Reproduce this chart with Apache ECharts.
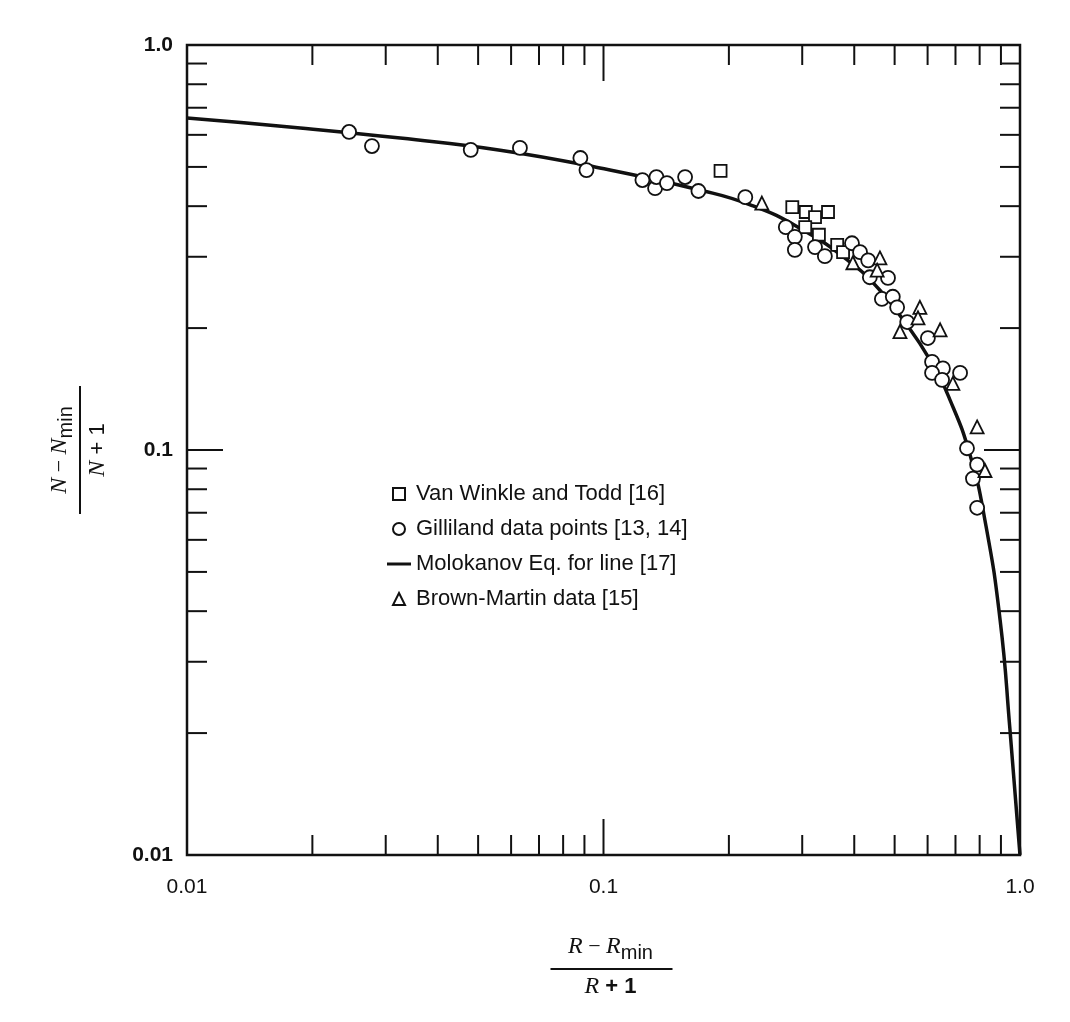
<!DOCTYPE html>
<html><head><meta charset="utf-8">
<script src="https://cdn.jsdelivr.net/npm/echarts@6/dist/echarts.min.js"></script>
<style>html,body{margin:0;padding:0;background:#fff}#c{width:1070px;height:1022px}</style>
</head><body><div id="c"></div>
<script>
const molokanov = [[0.01,0.66],[0.0187,0.624],[0.0325,0.589],[0.0565,0.55],[0.098,0.497],[0.171,0.438],[0.225,0.403],[0.296,0.353],[0.391,0.291],[0.461,0.248],[0.515,0.215],[0.608,0.167],[0.679,0.133],[0.759,0.097],[0.824,0.067],[0.896,0.038],[0.946,0.0204],[1.0,0.01]];
const gilliland = [[0.0245,0.61],[0.0278,0.563],[0.048,0.551],[0.063,0.557],[0.088,0.526],[0.091,0.491],[0.124,0.464],[0.133,0.443],[0.134,0.472],[0.142,0.456],[0.157,0.472],[0.169,0.436],[0.219,0.421],[0.274,0.355],[0.288,0.336],[0.288,0.312],[0.322,0.317],[0.34,0.301],[0.395,0.324],[0.413,0.308],[0.432,0.294],[0.436,0.267],[0.482,0.266],[0.466,0.236],[0.495,0.239],[0.507,0.225],[0.536,0.207],[0.601,0.189],[0.615,0.165],[0.653,0.159],[0.718,0.155],[0.615,0.155],[0.65,0.149],[0.746,0.101],[0.789,0.092],[0.771,0.085],[0.789,0.072]];
const vanWinkle = [[0.191,0.489],[0.284,0.398],[0.306,0.387],[0.346,0.387],[0.322,0.376],[0.305,0.355],[0.329,0.34],[0.364,0.321],[0.376,0.308]];
const brownMartin = [[0.24,0.407],[0.397,0.29],[0.461,0.298],[0.454,0.278],[0.575,0.225],[0.569,0.212],[0.515,0.196],[0.643,0.198],[0.69,0.146],[0.789,0.114],[0.824,0.089]];
const majorTicks = [0.01,0.1,1];
const minorTicks = [0.02,0.03,0.04,0.05,0.06,0.07,0.08,0.09,0.2,0.3,0.4,0.5,0.6,0.7,0.8,0.9];

const tickData = [];
majorTicks.forEach(v=>tickData.push([v,1]));
minorTicks.forEach(v=>tickData.push([v,0]));

const chart = echarts.init(document.getElementById('c'));
const L=187,R=1020,T=45,B=855;
function renderTicks(params, api){
  const v = api.value(0), major = api.value(1)===1;
  const len = major?36:20;
  const px = api.coord([v,0.01])[0];
  const py = api.coord([0.01,v])[1];
  const st = {stroke:'#111', lineWidth:2};
  const ch = [];
  if(v>0.01 && v<1){
    ch.push({type:'line',shape:{x1:px,y1:B,x2:px,y2:B-len},style:st});
    ch.push({type:'line',shape:{x1:px,y1:T,x2:px,y2:T+len},style:st});
    ch.push({type:'line',shape:{x1:L,y1:py,x2:L+len,y2:py},style:st});
    ch.push({type:'line',shape:{x1:R,y1:py,x2:R-len,y2:py},style:st});
  }
  return {type:'group',children:ch};
}
const mk = {color:'#fff', borderColor:'#111', borderWidth:1.8, opacity:1};
const fmt = v=>v>=1?'1.0':String(+v.toPrecision(1));
chart.setOption({
  animation:false,
  backgroundColor:'#fff',
  grid:{left:L,top:T,width:R-L,height:B-T,show:true,borderColor:'#111',borderWidth:2.5},
  xAxis:{type:'log',min:0.01,max:1,logBase:10,axisLine:{show:false},axisTick:{show:false},splitLine:{show:false},
    axisLabel:{margin:22,fontSize:21,fontFamily:'Liberation Sans',color:'#111',formatter:fmt}},
  yAxis:{type:'log',min:0.01,max:1,logBase:10,axisLine:{show:false},axisTick:{show:false},splitLine:{show:false},
    axisLabel:{margin:14,fontSize:21,fontFamily:'Liberation Sans',fontWeight:'bold',color:'#111',formatter:fmt}},
  legend:{orient:'vertical',left:382,top:478,itemGap:13,itemWidth:24,itemHeight:12,
    data:[
      {name:'Van Winkle and Todd [16]',icon:'path://M6,0H18V12H6Z'},
      {name:'Gilliland data points [13, 14]',icon:'path://M12,0A6,6,0,1,1,11.99,0Z'},
      {name:'Molokanov Eq. for line [17]',icon:'path://M0,4.5H24V7.5H0Z',itemStyle:{color:'#111',borderWidth:0}},
      {name:'Brown-Martin data [15]',icon:'path://M12,0L18,12H6Z'}],
    textStyle:{fontSize:22,fontFamily:'Liberation Sans',color:'#111'}},
  series:[
    {type:'custom',renderItem:renderTicks,data:tickData,silent:true,z:1},
    {name:'Molokanov Eq. for line [17]',type:'line',data:molokanov,smooth:true,symbol:'none',lineStyle:{color:'#111',width:3.5},itemStyle:{color:'#111'},z:2},
    {name:'Van Winkle and Todd [16]',type:'scatter',data:vanWinkle,symbol:'rect',symbolSize:12,itemStyle:mk,z:3},
    {name:'Gilliland data points [13, 14]',type:'scatter',data:gilliland,symbol:'circle',symbolSize:14,itemStyle:mk,z:3},
    {name:'Brown-Martin data [15]',type:'scatter',data:brownMartin,symbol:'triangle',symbolSize:13,itemStyle:mk,z:3}
  ],
  graphic:[
    {type:'group',left:548,top:935,children:[
      {type:'text',style:{x:60,y:0,text:'{i|R} − {i|R}{s|min}',textAlign:'center',font:'22px Liberation Serif',fill:'#111',rich:{i:{fontStyle:'italic',fontSize:24,fontFamily:'Liberation Serif'},s:{fontSize:20,fontFamily:'Liberation Sans',padding:[12,0,0,0]}}}},
      {type:'line',shape:{x1:0,y1:38,x2:122,y2:38},style:{stroke:'#111',lineWidth:2}},
      {type:'text',style:{x:60,y:44,text:'{i|R} + 1',textAlign:'center',font:'bold 22px Liberation Sans',fill:'#111',rich:{i:{fontStyle:'italic',fontWeight:'normal',fontSize:24,fontFamily:'Liberation Serif'}}}}
    ]},
    {type:'group',x:80,y:450,rotation:Math.PI/2,children:[
      {type:'text',style:{x:0,y:-36,text:'{i|N} − {i|N}{s|min}',textAlign:'center',font:'22px Liberation Serif',fill:'#111',rich:{i:{fontStyle:'italic',fontSize:24,fontFamily:'Liberation Serif'},s:{fontSize:20,fontFamily:'Liberation Sans',padding:[12,0,0,0]}}}},
      {type:'line',shape:{x1:-64,y1:0,x2:64,y2:0},style:{stroke:'#111',lineWidth:2}},
      {type:'text',style:{x:0,y:6,text:'{i|N} + 1',textAlign:'center',font:'22px Liberation Sans',fill:'#111',rich:{i:{fontStyle:'italic',fontSize:24,fontFamily:'Liberation Serif'}}}}
    ]}
  ]
});
</script></body></html>
